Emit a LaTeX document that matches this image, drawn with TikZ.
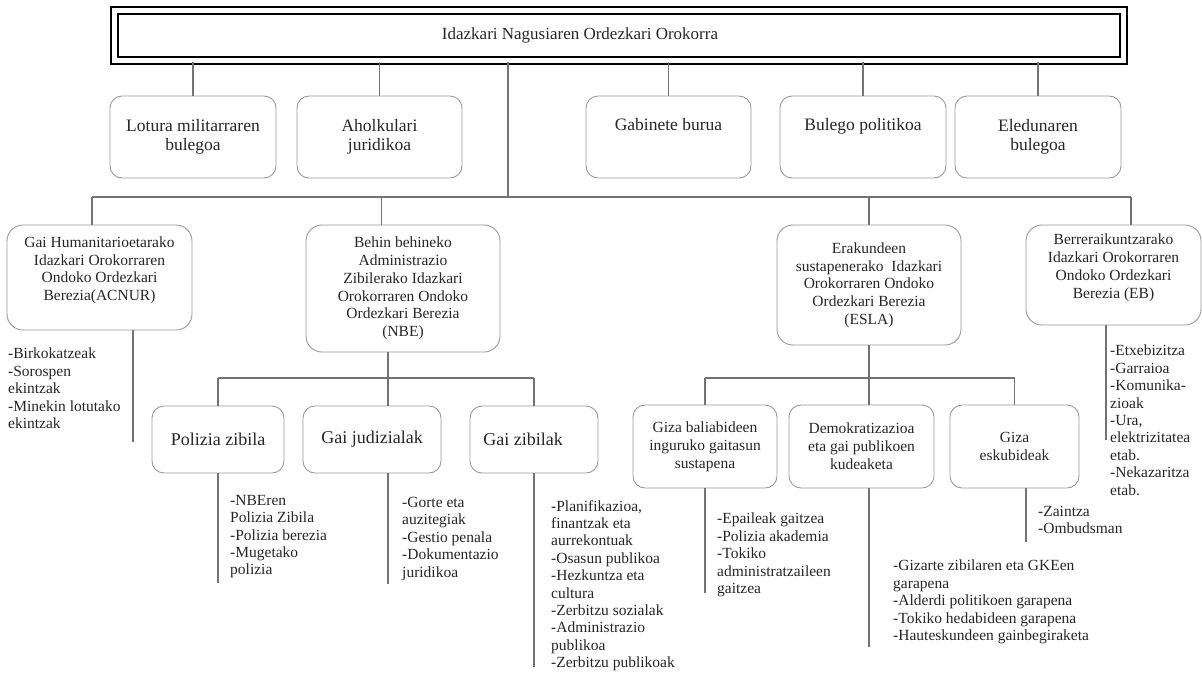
\documentclass[tikz,border=0pt]{standalone}
\usepackage{fontspec}
\setmainfont{Liberation Serif}

\begin{document}
\begin{tikzpicture}[x=1pt, y=-1pt,
    headbox/.style={draw=black, double, line width=2.4pt, double distance=4.6pt, minimum width=1009, minimum height=50, text=black!85, font=\fontsize{17}{19.5}\selectfont},
    unitbox/.style={draw=black!40, line width=0.9pt, rounded corners=12pt, align=center, minimum height=82, text=black!85, font=\fontsize{17.5}{19.5}\selectfont},
    deputybox/.style={draw=black!40, line width=0.9pt, rounded corners=16pt, align=center, text=black!85, font=\fontsize{15.5}{17.7}\selectfont},
    sectionbox/.style={draw=black!40, line width=0.9pt, rounded corners=12pt, align=center, minimum height=67, text=black!85, font=\fontsize{18}{20}\selectfont},
    areabox/.style={draw=black!40, line width=0.9pt, rounded corners=12pt, align=center, minimum height=83, text=black!85, font=\fontsize{15.5}{18}\selectfont},
    tasklist/.style={anchor=north west, align=left, inner sep=0pt, text=black!85, font=\fontsize{15.5}{17.4}\selectfont},
    link/.style={draw=black!55, line width=1.1pt}]
    \useasboundingbox (0,0) rectangle (1202,673);

    \node[headbox] (top) at (619,35.5) {Idazkari Nagusiaren Ordezkari Orokorra\hspace*{78pt}};

    \node[unitbox, minimum width=166] (lotura) at (193,137) {Lotura militarraren\\bulegoa};
    \node[unitbox, minimum width=165] (aholku) at (379.5,137) {Aholkulari\\juridikoa};
    \node[unitbox, minimum width=165] (gabinete) at (668.5,137) {Gabinete burua\\\strut};
    \node[unitbox, minimum width=166] (bulego) at (863,137) {Bulego politikoa\\\strut};
    \node[unitbox, minimum width=166] (eledun) at (1038,137) {Eledunaren\\bulegoa};

    \node[deputybox, minimum width=185, minimum height=105] (acnur) at (99.5,277.5) {Gai Humanitarioetarako\\Idazkari Orokorraren\\Ondoko Ordezkari\\Berezia(ACNUR)\\\mbox{}};
    \node[deputybox, minimum width=194, minimum height=127] (nbe) at (403,288.5) {Behin behineko\\Administrazio\\Zibilerako Idazkari\\Orokorraren Ondoko\\Ordezkari Berezia\\(NBE)};
    \node[deputybox, minimum width=184, minimum height=120] (esla) at (869,285) {Erakundeen\\sustapenerako~ Idazkari\\Orokorraren Ondoko\\Ordezkari Berezia\\(ESLA)};
    \node[deputybox, minimum width=175, minimum height=100] (eb) at (1113.5,275) {Berreraikuntzarako\\Idazkari Orokorraren\\Ondoko Ordezkari\\Berezia (EB)\\\mbox{}};

    \node[sectionbox, minimum width=132] (polizia) at (218,439.5) {Polizia zibila};
    \node[sectionbox, minimum width=138] (judizial) at (372,439.5) {Gai judizialak};
    \node[sectionbox, minimum width=128] (zibil) at (534,439.5) {Gai zibilak\hspace*{22pt}};

    \node[areabox, minimum width=144] (gizab) at (705,446.5) {Giza baliabideen\\inguruko gaitasun\\sustapena};
    \node[areabox, minimum width=145] (demok) at (861.5,446.5) {Demokratizazioa\\eta gai publikoen\\kudeaketa};
    \node[areabox, minimum width=129] (gizae) at (1014.5,446.5) {Giza\\eskubideak};

    \node[tasklist] (acnurlist) at (8,348) {-Birkokatzeak\\-Sorospen\\ekintzak\\-Minekin lotutako\\ekintzak};
    \node[tasklist] (polizialist) at (230,495) {-NBEren\\Polizia Zibila\\-Polizia berezia\\-Mugetako\\polizia};
    \node[tasklist] (judiziallist) at (402,497) {-Gorte eta\\auzitegiak\\-Gestio penala\\-Dokumentazio\\juridikoa};
    \node[tasklist] (zibillist) at (551,500) {-Planifikazioa,\\finantzak eta\\aurrekontuak\\-Osasun publikoa\\-Hezkuntza eta\\cultura\\-Zerbitzu sozialak\\-Administrazio\\publikoa\\-Zerbitzu publikoak};
    \node[tasklist] (gizablist) at (717,513) {-Epaileak gaitzea\\-Polizia akademia\\-Tokiko\\administratzaileen\\gaitzea};
    \node[tasklist] (demoklist) at (893,560) {-Gizarte zibilaren eta GKEen\\garapena\\-Alderdi politikoen garapena\\-Tokiko hedabideen garapena\\-Hauteskundeen gainbegiraketa};
    \node[tasklist] (gizaelist) at (1038,506) {-Zaintza\\-Ombudsman};
    \node[tasklist] (eblist) at (1110,345) {-Etxebizitza\\-Garraioa\\-Komunika-\\zioak\\-Ura,\\elektrizitatea\\etab.\\-Nekazaritza\\etab.};

    % top level
    \coordinate (hub) at (508,197);
    \coordinate (barl) at (92,197);
    \coordinate (barr) at (1131,197);
    \coordinate (nbetop) at (381.5,197);
    \draw[link] (lotura.north |- top.south) -- (lotura.north);
    \draw[link] (aholku.north |- top.south) -- (aholku.north);
    \draw[link] (gabinete.north |- top.south) -- (gabinete.north);
    \draw[link] (bulego.north |- top.south) -- (bulego.north);
    \draw[link] (eledun.north |- top.south) -- (eledun.north);
    \draw[link] (hub |- top.south) -- (hub);
    \draw[link] (barl) -- (barr);
    \draw[link] (barl) -- (barl |- acnur.north);
    \draw[link] (nbetop) -- (nbetop |- nbe.north);
    \draw[link] (esla.north |- hub) -- (esla.north);
    \draw[link] (barr) -- (barr |- eb.north);

    % NBE
    \coordinate (nbehub) at (388,378);
    \draw[link] (nbehub |- nbe.south) -- (nbehub |- judizial.north);
    \draw[link] (polizia.north |- nbehub) -- (zibil.north |- nbehub);
    \draw[link] (polizia.north |- nbehub) -- (polizia.north);
    \draw[link] (zibil.north |- nbehub) -- (zibil.north);
    \draw[link] (polizia.south) -- ++(0,110);
    \draw[link] (nbehub |- judizial.south) -- ++(0,111);
    \draw[link] (zibil.south) -- ++(0,194);
    \draw[link] ([xshift=33.5]acnur.south) -- ++(0,112);

    % ESLA
    \draw[link] (esla.south) -- (esla.south |- demok.north);
    \draw[link] (gizab.north |- nbehub) -- (gizae.north |- nbehub);
    \draw[link] (gizab.north |- nbehub) -- (gizab.north);
    \draw[link] (gizae.north |- nbehub) -- (gizae.north);
    \draw[link] (gizab.south) -- ++(0,105);
    \draw[link] (esla.south |- demok.south) -- ++(0,159);
    \draw[link] ([xshift=11.5]gizae.south) -- ++(0,54);
    \draw[link] ([xshift=-7.5]eb.south) -- ++(0,115);
\end{tikzpicture}
\end{document}
